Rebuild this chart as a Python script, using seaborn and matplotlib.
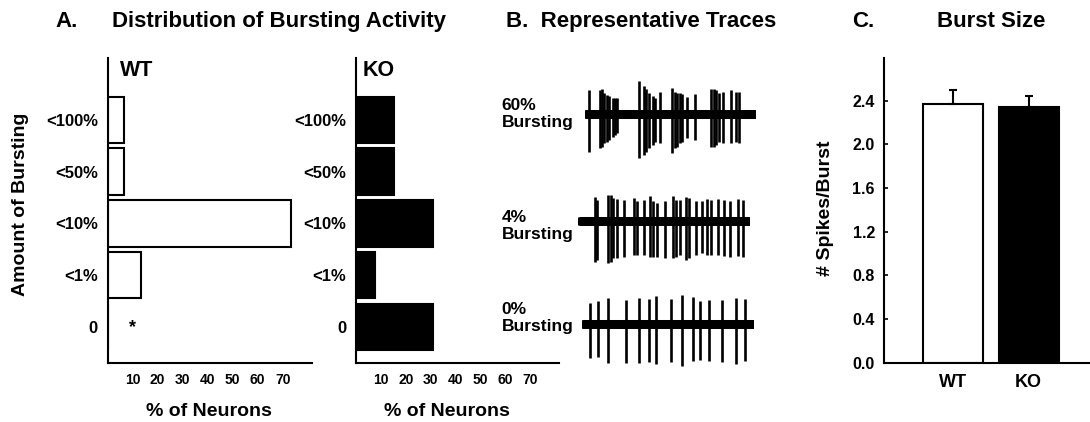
import matplotlib
matplotlib.use("Agg")
import matplotlib.pyplot as plt
import seaborn as sns

# ── Data ─────────────────────────────────────────────────────────────────────
burst_levels = ["<100%", "<50%", "<10%", "<1%", "0"]
wt_pct = [6.7, 6.7, 73.3, 13.3, 0.0]
ko_pct = [15.4, 15.4, 30.8, 7.7, 30.8]
pct_ticks = [10, 20, 30, 40, 50, 60, 70]

groups = ["WT", "KO"]
spikes_per_burst = [2.37, 2.34]
spikes_sem = [0.13, 0.10]
c_ticks = [0.0, 0.4, 0.8, 1.2, 1.6, 2.0, 2.4]

# representative traces: spike times and up/down amplitudes (arbitrary units)
t60_span = [30, 543]
t60_times = [37, 72, 77, 85, 92, 100, 110, 117, 125, 192, 205, 213, 222, 232, 240, 255,
             292, 300, 305, 315, 323, 336, 362, 410, 418, 425, 433, 447, 470, 485, 495]
t60_up = [73, 73, 76, 63, 58, 56, 48, 50, 48, 100, 86, 76, 63, 56, 48, 68,
          80, 66, 63, 63, 61, 53, 60, 76, 76, 73, 63, 68, 73, 68, 68]
t60_down = [112, 102, 97, 87, 82, 77, 67, 62, 57, 130, 122, 112, 102, 92, 82, 87,
            117, 102, 97, 87, 82, 72, 77, 97, 97, 92, 82, 87, 87, 82, 87]

t4_span = [25, 540]
t4_times = [72, 78, 112, 120, 128, 140, 160, 192, 200, 222, 240, 250, 262, 285, 308, 318,
            332, 350, 357, 378, 397, 412, 425, 446, 465, 482, 508, 522]
t4_up = [70, 62, 77, 77, 67, 64, 62, 67, 60, 62, 74, 60, 54, 60, 74, 62,
         62, 72, 67, 60, 60, 64, 62, 64, 62, 60, 64, 62]
t4_down = [123, 118, 126, 123, 113, 113, 108, 103, 103, 103, 108, 110, 108, 113, 113, 108,
           103, 118, 113, 103, 98, 103, 103, 103, 106, 108, 106, 108]

t0_span = [20, 538]
t0_times = [42, 65, 97, 152, 192, 220, 243, 287, 323, 355, 378, 403, 444, 485, 515]
t0_up = [63, 70, 78, 73, 80, 76, 86, 76, 88, 83, 70, 73, 73, 80, 76]
t0_down = [102, 97, 117, 117, 117, 112, 120, 112, 124, 110, 107, 110, 112, 120, 110]

# ── Style ────────────────────────────────────────────────────────────────────
sns.set_style("ticks")
plt.rcParams["font.family"] = ["Liberation Sans", "DejaVu Sans"]
plt.rcParams["font.weight"] = "bold"
plt.rcParams["axes.linewidth"] = 1.5
for key in ["text.color", "axes.labelcolor", "axes.edgecolor", "xtick.color", "ytick.color"]:
    plt.rcParams[key] = "black"

W, H = 1090, 422


def px_axes(fig, x0, y0, x1, y1):
    """Axes from pixel box (top-left origin)."""
    return fig.add_axes([x0 / W, 1 - y1 / H, (x1 - x0) / W, (y1 - y0) / H])


def ftext(fig, x, y, s, **kw):
    fig.text(x / W, 1 - y / H, s, fontweight="bold", color="black", **kw)


fig = plt.figure(figsize=(W / 100, H / 100), dpi=100)

# ── A. distribution ──────────────────────────────────────────────────────────
for vals, color, box, lbl, lbl_x, xlab_x in [
    (wt_pct, "white", (107.5, 58, 311.5, 363), "WT", 120, 209),
    (ko_pct, "black", (356, 58, 559, 363), "KO", 363, 447),
]:
    ax = px_axes(fig, *box)
    sns.barplot(x=vals, y=burst_levels, orient="h", color=color, saturation=1,
                edgecolor="black", linewidth=1.5, width=0.9, ax=ax)
    ax.set_xlim(0, 81.5)
    ax.set_ylim(4.7, -1.2)
    ax.set_xticks(pct_ticks)
    ax.set_xticklabels([str(t) for t in pct_ticks], fontsize=10, fontweight="bold")
    ax.set_yticks(range(len(burst_levels)))
    ax.set_yticklabels(burst_levels, fontsize=12, fontweight="bold")
    ax.tick_params(axis="both", length=0)
    ax.tick_params(axis="x", pad=7)
    ax.tick_params(axis="y", pad=7)
    ax.set_ylabel("")
    sns.despine(ax=ax)
    ax.set_xlabel("% of Neurons", fontsize=14, fontweight="bold")
    ax.xaxis.set_label_coords((xlab_x - box[0]) / (box[2] - box[0]), -(416.5 - 363) / (363 - 58))
    ax.xaxis.label.set_va("baseline")
    ftext(fig, lbl_x, 76, lbl, fontsize=15.5, va="baseline")
    if lbl == "WT":
        ax.text(10, 4.02, "*", ha="center", va="center", fontsize=13, fontweight="bold")

ftext(fig, 55, 26.7, "A.", fontsize=16, va="baseline")
ftext(fig, 111.5, 26.7, "Distribution of Bursting Activity", fontsize=16, va="baseline")
ftext(fig, 20.5, 204, "Amount of Bursting", fontsize=14, rotation=90, ha="center", va="center")

# ── B. traces ────────────────────────────────────────────────────────────────
ftext(fig, 506.5, 26.7, "B.  Representative Traces", fontsize=16, va="baseline")

for span, times, up, down, box, base, lab, yb in [
    (t60_span, t60_times, t60_up, t60_down, (585, 75, 756, 165), 118, "60%", 110),
    (t4_span, t4_times, t4_up, t4_down, (578.3, 180, 750, 270), 122, "4%", 221.7),
    (t0_span, t0_times, t0_up, t0_down, (581.7, 285, 754.3, 375), 118, "0%", 314),
]:
    ax = px_axes(fig, *box)
    ax.plot(span, [0, 0], color="black", lw=6.5, solid_capstyle="round")
    ax.vlines(times, [-d for d in down], up, color="black", lw=1.9)
    ax.set_xlim(span[0] - 4, span[1] + 4)
    ax.set_ylim(-(270 - base), base)
    ax.axis("off")
    ftext(fig, 501.7, yb, lab, fontsize=12.5, va="baseline")
    ftext(fig, 501.7, yb + 17.3, "Bursting", fontsize=12.5, va="baseline")

# ── C. burst size ────────────────────────────────────────────────────────────
ax = px_axes(fig, 884, 58, 1090, 362.7)
sns.barplot(x=groups, y=spikes_per_burst, hue=groups, palette=["white", "black"],
            saturation=1, edgecolor="black", linewidth=1.5, width=0.79, legend=False, ax=ax)
ax.errorbar([0, 1], spikes_per_burst, yerr=[[0, 0], spikes_sem], fmt="none",
            ecolor="black", elinewidth=1.5, capsize=2.9, capthick=1.5)
ax.set_xlim(-0.906, 1.81)
ax.set_ylim(0, 2.79)
ax.set_yticks(c_ticks)
ax.set_yticklabels([f"{t:.1f}" for t in c_ticks], fontsize=11.5, fontweight="bold")
ax.set_xticks([0, 1])
ax.set_xticklabels(groups, fontsize=13, fontweight="bold")
ax.tick_params(axis="y", direction="in", length=3, width=1.2, pad=6.5)
ax.tick_params(axis="x", length=0, pad=8)
ax.set_xlabel("")
ax.set_ylabel("")
sns.despine(ax=ax)

ftext(fig, 851.7, 26.7, "C.", fontsize=16, va="baseline")
ftext(fig, 990.7, 26.7, "Burst Size", fontsize=16, ha="center", va="baseline")
ftext(fig, 825, 208, "# Spikes/Burst", fontsize=14, rotation=90, ha="center", va="center")

fig.savefig("out.png", dpi=100)
